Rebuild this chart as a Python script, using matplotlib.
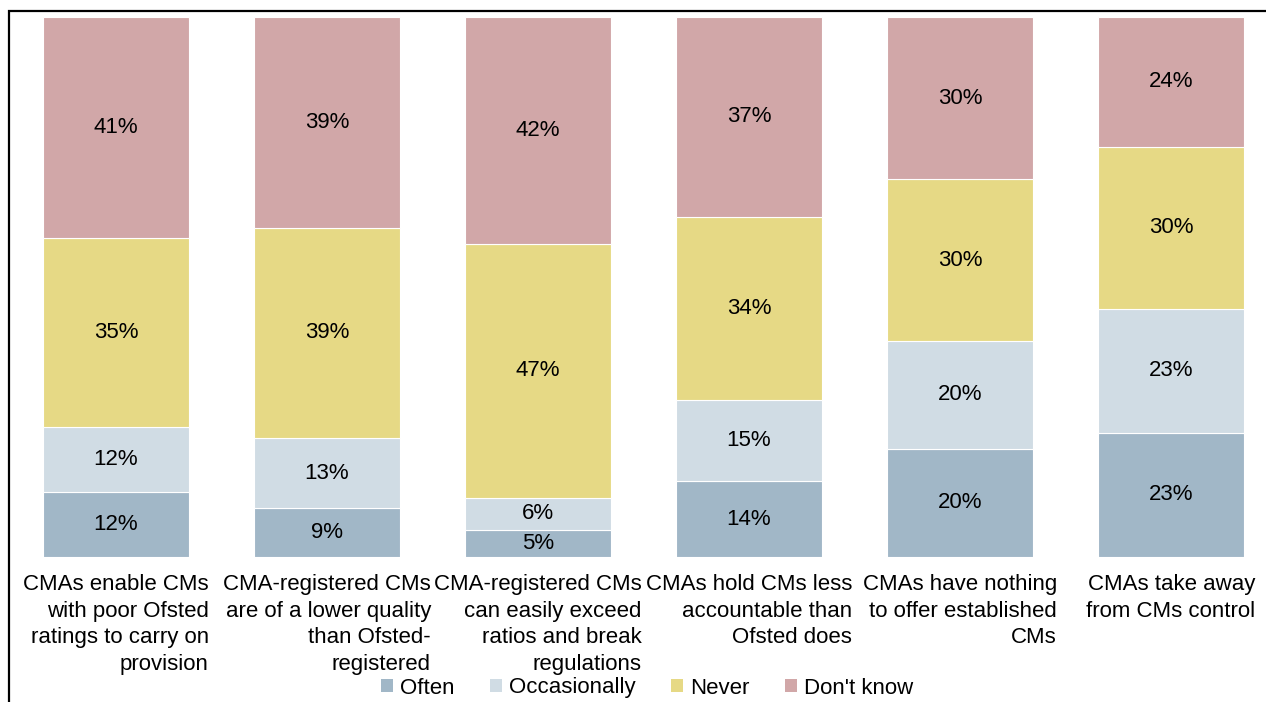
import matplotlib.pyplot as plt
from matplotlib.patches import Rectangle, Patch

plt.rcParams["font.family"] = ["Liberation Sans", "DejaVu Sans"]

categories = [
    "CMAs enable CMs\nwith poor Ofsted\nratings to carry on\nprovision",
    "CMA-registered CMs\nare of a lower quality\nthan Ofsted-\nregistered",
    "CMA-registered CMs\ncan easily exceed\nratios and break\nregulations",
    "CMAs hold CMs less\naccountable than\nOfsted does",
    "CMAs have nothing\nto offer established\nCMs",
    "CMAs take away\nfrom CMs control",
]
often = [12, 9, 5, 14, 20, 23]
occasionally = [12, 13, 6, 15, 20, 23]
never = [35, 39, 47, 34, 30, 30]
dont_know = [41, 39, 42, 37, 30, 24]

series = [("Often", often, "#A1B7C7"),
          ("Occasionally", occasionally, "#D0DCE4"),
          ("Never", never, "#E6D985"),
          ("Don't know", dont_know, "#D1A7A8")]

W, H = 1266, 702
fig = plt.figure(figsize=(W / 100, H / 100), dpi=100)
ax = fig.add_axes([0, 1 - 557 / H, 1, (557 - 17) / H])

x = list(range(len(categories)))
bottom = [0] * len(x)
for name, vals, col in series:
    ax.bar(x, vals, bottom=bottom, width=146 / 211, color=col,
           edgecolor="white", linewidth=0.8, label=name)
    for xi, b, v in zip(x, bottom, vals):
        ax.text(xi, b + v / 2, f"{v}%", ha="center", va="center", fontsize=16)
    bottom = [b + v for b, v in zip(bottom, vals)]

ax.set_xlim(-116 / 211, (W - 116) / 211)
ax.set_ylim(0, 100)
ax.axis("off")

for xi, lab in zip(x, categories):
    ax.text(xi, -3.2, lab, ha="center", va="top", multialignment="right",
            fontsize=16, linespacing=1.35)

handles = [Patch(facecolor=c, edgecolor="none") for _, _, c in series]
fig.legend(handles, [s[0] for s in series], loc="center",
           bbox_to_anchor=(647 / W, 1 - 688 / H), ncol=4, frameon=False,
           fontsize=16, handlelength=0.55, handleheight=0.55,
           handletextpad=0.3, columnspacing=1.6)

# outer frame (partially outside the image, as in the original)
fig.add_artist(Rectangle((9 / W, -0.2), 1.2, 1.2 - 10.5 / H,
                         transform=fig.transFigure, fill=False,
                         edgecolor="black", linewidth=1.6))

fig.savefig("out.png", dpi=100, facecolor="white")
